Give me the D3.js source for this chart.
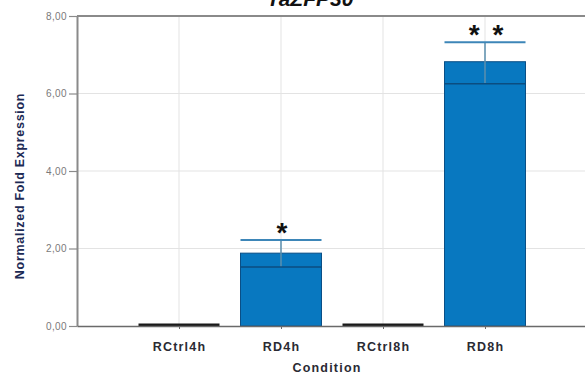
<!DOCTYPE html>
<html>
<head>
<meta charset="utf-8">
<script src="https://cdn.jsdelivr.net/npm/d3@7"></script>
<style>
  html, body { margin: 0; padding: 0; background: #fff; }
  svg { display: block; }
</style>
</head>
<body>
<svg id="chart" width="585" height="376"></svg>
<script>
// Relative expression of TaZFP30 per condition
const categories = ["RCtrl4h", "RD4h", "RCtrl8h", "RD8h"];
const values     = [0.0, 1.88, 0.0, 6.82];
const errUpper   = [0.0, 2.22, 0.0, 7.32];
const errLower   = [0.0, 1.52, 0.0, 6.25];
const stars      = ["", "*", "", "* *"];
const yTicks     = [0, 2, 4, 6, 8];

const svg = d3.select("#chart");
const plotLeft = 77, plotRight = 587, plotTop = 16, plotBottom = 326;
const font = "Arial, 'Liberation Sans', sans-serif";

const x = d3.scalePoint().domain(["", ...categories, " "]).range([plotLeft, plotRight]);
const barW = 81;
const y = d3.scaleLinear().domain([0, 8]).range([plotBottom, plotTop]);
const fmt = v => d3.format(".2f")(v).replace(".", ",");

// grid
svg.append("g").selectAll("line").data(yTicks.slice(1, 4)).join("line")
  .attr("x1", plotLeft).attr("x2", 585)
  .attr("y1", d => y(d)).attr("y2", d => y(d))
  .attr("stroke", "#e3e3e3").attr("stroke-width", 1);
svg.append("g").selectAll("line").data(categories).join("line")
  .attr("x1", d => x(d)).attr("x2", d => x(d))
  .attr("y1", plotTop).attr("y2", plotBottom)
  .attr("stroke", "#e3e3e3").attr("stroke-width", 1);

// top frame line
svg.append("line").attr("x1", plotLeft).attr("x2", 585).attr("y1", plotTop).attr("y2", plotTop)
  .attr("stroke", "#8a8a8a").attr("stroke-width", 2);

// y axis
const yAxis = svg.append("g").attr("transform", `translate(${plotLeft},0)`)
  .call(d3.axisLeft(y).tickValues(yTicks).tickFormat(fmt).tickSize(8).tickSizeOuter(0));
yAxis.select(".domain").attr("stroke", "#8a8a8a").attr("stroke-width", 2);
yAxis.selectAll(".tick line").attr("stroke", "#8a8a8a").attr("stroke-width", 1.2);
yAxis.selectAll(".tick text").attr("fill", "#7a7a7a")
  .attr("font-family", font).attr("font-size", 10).attr("letter-spacing", 0.4)
  .attr("x", -10);

// bars (non-zero)
const data = categories.map((c, i) => ({ c, v: values[i], hi: errUpper[i], lo: errLower[i], s: stars[i] }));
svg.append("g").selectAll("rect").data(data.filter(d => d.v > 0)).join("rect")
  .attr("x", d => x(d.c) - barW / 2).attr("width", barW)
  .attr("y", d => y(d.v)).attr("height", d => y(0) - y(d.v))
  .attr("fill", "#0878c0").attr("stroke", "#0a4f86").attr("stroke-width", 1);

// zero-valued conditions shown as a flat dark bar
svg.append("g").selectAll("line").data(data.filter(d => d.v === 0)).join("line")
  .attr("x1", d => x(d.c) - barW / 2).attr("x2", d => x(d.c) + barW / 2)
  .attr("y1", d => y(d.v) - 1).attr("y2", d => y(d.v) - 1)
  .attr("stroke", "#1a1a1a").attr("stroke-width", 3);

// x axis
const xAxis = svg.append("g").attr("transform", `translate(0,${plotBottom})`)
  .call(d3.axisBottom(x).tickValues(categories).tickSize(3).tickSizeOuter(0));
xAxis.select(".domain").attr("stroke", "#6a6a6a").attr("stroke-width", 1.5);
xAxis.selectAll(".tick line").attr("stroke", "#6a6a6a");
xAxis.selectAll(".tick text").attr("fill", "#2a2a33")
  .attr("font-family", font).attr("font-size", 12.5).attr("letter-spacing", 1.2)
  .attr("font-weight", "bold").attr("y", 16);

// error bars
const eb = svg.append("g").selectAll("g").data(data.filter(d => d.v > 0)).join("g");
eb.append("line")
  .attr("x1", d => x(d.c)).attr("x2", d => x(d.c))
  .attr("y1", d => y(d.hi)).attr("y2", d => y(d.lo))
  .attr("stroke", "#5b8fae").attr("stroke-width", 1.5);
eb.append("line")
  .attr("x1", d => x(d.c) - barW / 2).attr("x2", d => x(d.c) + barW / 2)
  .attr("y1", d => y(d.hi)).attr("y2", d => y(d.hi))
  .attr("stroke", "#3d86b8").attr("stroke-width", 2);
eb.append("line")
  .attr("x1", d => x(d.c) - barW / 2).attr("x2", d => x(d.c) + barW / 2)
  .attr("y1", d => y(d.lo)).attr("y2", d => y(d.lo))
  .attr("stroke", "#0b4d80").attr("stroke-width", 1.5);

// significance markers (letter spacing widens the pair; offset keeps them centred)
const starSpacing = 2.5;
svg.append("g").selectAll("text").data(data.filter(d => d.s)).join("text")
  .attr("x", d => x(d.c) + starSpacing / 2 + 1).attr("y", d => y(d.hi) + 2)
  .attr("text-anchor", "middle")
  .attr("font-family", font).attr("letter-spacing", starSpacing)
  .attr("font-size", 28).attr("font-weight", "bold").attr("fill", "#111")
  .style("white-space", "pre")
  .text(d => d.s);

// title
svg.append("text").attr("x", 310).attr("y", 6).attr("text-anchor", "middle")
  .attr("font-family", font)
  .attr("font-size", 21).attr("font-weight", "bold").attr("font-style", "italic")
  .attr("fill", "#111").text("TaZFP30");

// axis titles
svg.append("text").attr("transform", "translate(24,186) rotate(-90)")
  .attr("text-anchor", "middle")
  .attr("font-family", font).attr("letter-spacing", 0.7)
  .attr("font-size", 12.5).attr("font-weight", "bold").attr("fill", "#1c2a55")
  .text("Normalized Fold Expression");
svg.append("text").attr("x", 327).attr("y", 372).attr("text-anchor", "middle")
  .attr("font-family", font).attr("letter-spacing", 1.2)
  .attr("font-size", 12.5).attr("font-weight", "bold").attr("fill", "#2a2a33")
  .text("Condition");
</script>
</body>
</html>
